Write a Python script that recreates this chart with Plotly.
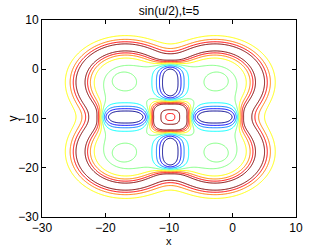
import numpy as np
import plotly.graph_objects as go

# ---------------- data ----------------
title_text = "sin(u/2),t=5"
x_ticks = [-30, -20, -10, 0, 10]
y_ticks = [-30, -20, -10, 0, 10]
levels_start, levels_end, levels_step = -0.8, 0.8, 0.2

center_x, center_y = -9.8, -9.7          # centre of the pattern
lobe_x = [-16.9, -2.7, -16.9, -2.7]      # ring-soliton centres
lobe_y = [-2.6, -2.6, -16.8, -16.8]
lobe_radius = 7.0
kink_width = 1.05
fill_radius = 11.2                        # filled core between the rings
hole_radius, hole_width, hole_depth = 2.6, 0.7, 5.3
blob_x = [-9.8, -16.9, -2.7, -9.8]       # the four blue cores
blob_y = [-2.6, -9.7, -9.7, -16.8]
blob_vertical = [True, False, False, True]
blob_amp, blob_short, blob_long = 3.0, 1.8, 4.0
lobe_bulge, lobe_bulge_r, lobe_dip, lobe_dip_w = 0.12, 3.6, 0.12, 1.6

# ---------------- field ----------------
x = np.linspace(-30, 10, 321)
y = np.linspace(-30, 10, 321)
X, Y = np.meshgrid(x, y)

def step(d, w):
    return (2 / np.pi) * np.arctan(np.exp(np.clip(d / w, -50, 50)))

rc = np.hypot(X - center_x, Y - center_y)
outside = 1 - step(fill_radius - rc, kink_width)
for cx, cy in zip(lobe_x, lobe_y):
    outside = outside * (1 - step(lobe_radius - np.hypot(X - cx, Y - cy), kink_width))
u = 2 * np.pi * (1 - outside)

# centre hole (rounded square)
p = 2.6
rsq = (np.abs(X - center_x) ** p + np.abs(Y - center_y) ** p) ** (1 / p)
u -= hole_depth * step(hole_radius - rsq, hole_width)

# blue cores
for bx, by, vert in zip(blob_x, blob_y, blob_vertical):
    dx, dy = np.abs(X - bx), np.abs(Y - by)
    if not vert:
        dx, dy = dy, dx
    u += blob_amp * np.exp(-(dx / blob_short) ** 1.75 - (dy / blob_long) ** 3)

# small structure inside each lobe
for cx, cy in zip(lobe_x, lobe_y):
    r2 = (X - cx) ** 2 + (Y - cy) ** 2
    q = r2 / lobe_bulge_r ** 2
    u += lobe_bulge * q * np.exp(1 - q) - lobe_dip * np.exp(-r2 / (2 * lobe_dip_w ** 2))

Z = np.sin(u / 2)

jet = [[0.0, "#00008F"], [0.125, "#0000FF"], [0.375, "#00FFFF"],
       [0.625, "#FFFF00"], [0.875, "#FF0000"], [1.0, "#800000"]]

fig = go.Figure(go.Contour(
    x=x, y=y, z=Z,
    zmin=-1, zmax=1, zauto=False,
    colorscale=jet, showscale=False,
    contours=dict(start=levels_start, end=levels_end, size=levels_step, coloring="lines"),
    line=dict(width=1),
    hoverinfo="skip",
))

font = dict(family="Liberation Sans, Arial, sans-serif", size=12, color="black")
small_font = dict(family="Liberation Sans, Arial, sans-serif", size=11, color="black")
axis_common = dict(
    showgrid=False, zeroline=False, showline=True, linecolor="black", linewidth=1,
    mirror="ticks", ticks="inside", ticklen=4, tickcolor="black", tickfont=font,
    automargin=False,
)
fig.update_layout(
    width=327, height=246,
    margin=dict(l=42, r=31, t=20, b=29, autoexpand=False),
    paper_bgcolor="white", plot_bgcolor="white",
    title=dict(text=title_text, x=0.5, xref="paper", y=0.958, yref="container",
               yanchor="middle", font=font, automargin=False),
    xaxis=dict(range=[-30, 10], tickvals=x_ticks, **axis_common),
    yaxis=dict(range=[-30, 10], tickvals=y_ticks, **axis_common),
    annotations=[
        dict(text="x", xref="paper", yref="paper", x=0.5, y=-0.12,
             xanchor="center", yanchor="middle", showarrow=False, font=small_font),
        dict(text="y", xref="paper", yref="paper", x=-0.118, y=0.5, textangle=-90,
             xanchor="center", yanchor="middle", showarrow=False, font=font),
    ],
    showlegend=False,
)
fig.write_html("out.html", config={"displayModeBar": False, "staticPlot": True},
               post_script="document.body.style.margin='0';")
